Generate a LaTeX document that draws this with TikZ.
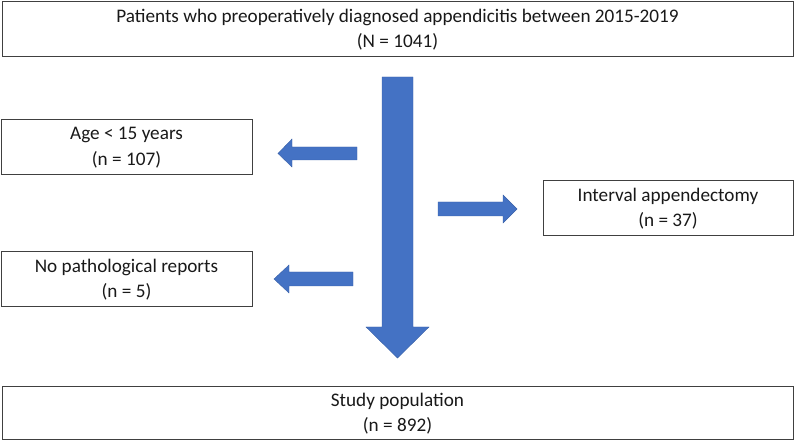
\documentclass[tikz,border=0pt]{standalone}
\usepackage{fontspec}
\setmainfont{Carlito}
\begin{document}
\begin{tikzpicture}[x=1pt,y=-1pt,
  box/.style={draw=black!75,line width=1pt,fill=white,rectangle,inner sep=0pt,align=center,
    font=\fontsize{19.2}{25.5}\selectfont,text=black!90},
  blockarrow/.style={fill=arrowblue,draw=arrowblue!85!black,line width=0.4pt}]
\definecolor{arrowblue}{HTML}{4472C4}
\useasboundingbox (0,0) rectangle (796,443);
\node[box,minimum width=791pt,minimum height=55pt] (top) at (397.5,29.5)
  {Patients who preoperatively diagnosed appendicitis between 2015-2019\\(N = 1041)};
\node[box,minimum width=251pt,minimum height=55pt] (age) at (126.5,147.5)
  {Age < 15 years\\(n = 107)};
\node[box,minimum width=251pt,minimum height=55pt] (nopath) at (126.5,279.5)
  {No pathological reports\\(n = 5)};
\node[box,minimum width=250pt,minimum height=55pt] (interval) at (668,208.5)
  {Interval appendectomy\\(n = 37)};
\node[box,minimum width=791pt,minimum height=53pt] (study) at (397.5,413.5)
  {Study population\\(n = 892)};
% main down arrow
\fill[blockarrow] (382,77) -- (413,77) -- (413,327) -- (429,327) -- (397.5,358) -- (366,327) -- (382,327) -- cycle;
% left arrow to age
\fill[blockarrow] (357,147) -- (292,147) -- (292,139) -- (278,153.5) -- (292,167) -- (292,160) -- (357,160) -- cycle;
% left arrow to no path
\fill[blockarrow] (353,272) -- (289,272) -- (289,265) -- (274,279) -- (289,293) -- (289,286) -- (353,286) -- cycle;
% right arrow to interval
\fill[blockarrow] (438,202) -- (503,202) -- (503,195) -- (517,209) -- (503,223) -- (503,216) -- (438,216) -- cycle;
\end{tikzpicture}
\end{document}
